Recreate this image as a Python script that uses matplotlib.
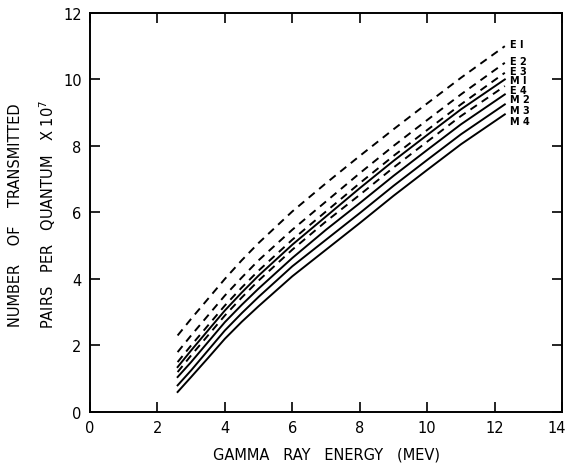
#!/usr/bin/env python3

import numpy as np
import matplotlib
matplotlib.use("Agg")
import matplotlib.pyplot as plt
import matplotlib.transforms as mtransforms

# ------------------------------------------------------------
# Data
# ------------------------------------------------------------

energy = [2.6, 3, 3.5, 4, 4.5, 5, 6, 7, 8, 9, 10, 11, 12.3]

e1 = [2.3, 2.8, 3.4, 4.0, 4.56, 5.08, 6.03, 6.88, 7.7, 8.5, 9.28, 10.05, 11.0]
e2 = [1.8, 2.3, 2.9, 3.5, 4.04, 4.56, 5.48, 6.33, 7.18, 8.0, 8.78, 9.55, 10.5]
e3 = [1.5, 2.0, 2.6, 3.2, 3.74, 4.25, 5.18, 6.03, 6.88, 7.7, 8.48, 9.25, 10.2]
m1 = [1.35, 1.85, 2.45, 3.05, 3.59, 4.1, 5.03, 5.88, 6.73, 7.55, 8.33, 9.1, 10.0]
e4 = [1.2, 1.7, 2.3, 2.9, 3.44, 3.95, 4.88, 5.73, 6.53, 7.35, 8.13, 8.9, 9.8]
m2 = [1.05, 1.5, 2.1, 2.7, 3.22, 3.71, 4.63, 5.48, 6.28, 7.1, 7.88, 8.65, 9.55]
m3 = [0.8, 1.25, 1.85, 2.45, 2.97, 3.46, 4.38, 5.18, 5.98, 6.8, 7.58, 8.35, 9.25]
m4 = [0.6, 1.05, 1.62, 2.2, 2.71, 3.18, 4.08, 4.88, 5.68, 6.5, 7.28, 8.05, 8.95]

names = ["E I", "E 2", "E 3", "M I", "E 4", "M 2", "M 3", "M 4"]
series = [e1, e2, e3, m1, e4, m2, m3, m4]
label_y = [11.08, 10.54, 10.26, 9.97, 9.69, 9.40, 9.08, 8.76]

x_ticks = [0, 2, 4, 6, 8, 10, 12, 14]
y_ticks = [0, 2, 4, 6, 8, 10, 12]

# ------------------------------------------------------------
# Plot
# ------------------------------------------------------------

plt.rcParams['font.family'] = ['DejaVu Sans']

fig = plt.figure(figsize=(5.69, 4.64), dpi=100)
ax = fig.add_axes([0.158, 0.11, 0.83, 0.86])

for name, vals in zip(names, series):
    if name.startswith("E"):
        ax.plot(energy, vals, color="black", lw=1.4, ls=(0, (4, 3)))
    else:
        ax.plot(energy, vals, color="black", lw=1.4)

for name, y in zip(names, label_y):
    ax.text(12.45, y, name, fontsize=7, fontweight="bold", va="center", ha="left")

ax.set_xlim(0, 14)
ax.set_ylim(0, 12)
ax.set_xticks(x_ticks)
ax.set_yticks(y_ticks)
ax.tick_params(direction="in", length=7, width=1.2, top=True, right=True,
               labelsize=10.5, pad=6)

for s in ax.spines.values():
    s.set_linewidth(1.4)

# last x label sits a little left, as in the original
last = ax.get_xticklabels()[-1]
last.set_transform(last.get_transform() +
                   mtransforms.ScaledTranslation(-5 / 100, 0, fig.dpi_scale_trans))

ax.set_xlabel("GAMMA   RAY   ENERGY   (MEV)", fontsize=10.5, labelpad=8)

# two line y label, placed by hand like the original lettering
fig.text(0.058, 0.537,
         "NUMBER    OF    TRANSMITTED\nPAIRS   PER   QUANTUM   X 10$^7$",
         fontsize=10.5, rotation=90, ha="center", va="center",
         linespacing=1.9, multialignment="center")

fig.savefig("out.png", dpi=100)
